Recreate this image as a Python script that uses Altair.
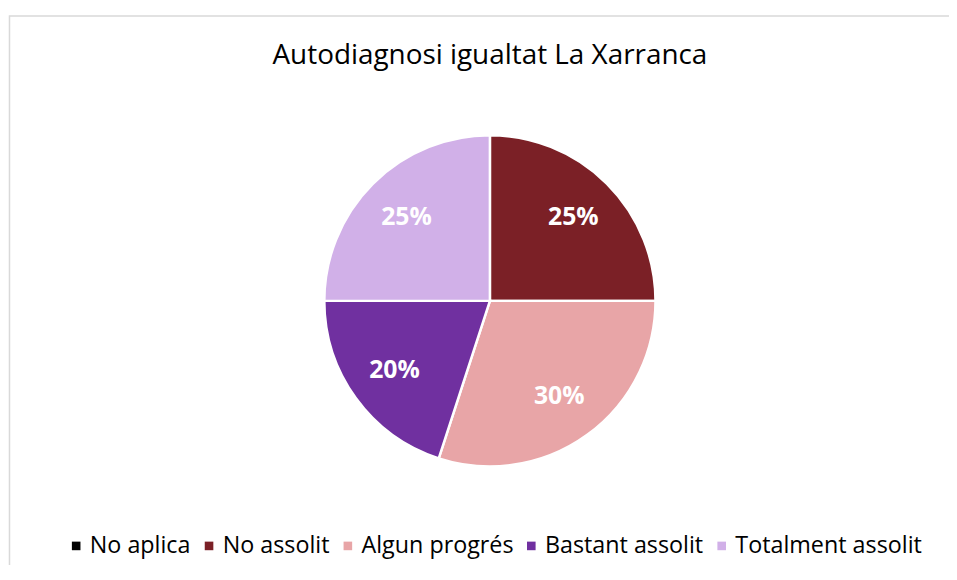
import altair as alt
import pandas as pd

categories = ["No aplica", "No assolit", "Algun progrés", "Bastant assolit", "Totalment assolit"]
values = [0, 25, 30, 20, 25]
colors = ["#000000", "#7B2026", "#E8A5A7", "#7030A0", "#D1B0E8"]
title_text = "Autodiagnosi igualtat La Xarranca"

df = pd.DataFrame({"cat": categories, "val": values, "order": list(range(len(categories)))})
df["label"] = [f"{v}%" for v in values]

CX, CY = 486, 288
FONT = "Open Sans"

base = alt.Chart(df).encode(
    theta=alt.Theta("val:Q", stack=True),
    order=alt.Order("order:Q"),
)

pie = base.mark_arc(outerRadius=167, stroke="white", strokeWidth=2.5, x=CX, y=CY).encode(
    color=alt.Color(
        "cat:N",
        scale=alt.Scale(domain=categories, range=colors),
        sort=categories,
        legend=alt.Legend(
            orient="none",
            legendX=57,
            legendY=523,
            direction="horizontal",
            title=None,
            labelFont=FONT,
            labelFontSize=23.5,
            labelColor="#000000",
            labelLimit=400,
            symbolType="square",
            symbolSize=75,
            symbolStrokeWidth=0,
            labelOffset=2,
            columnPadding=6,
        ),
    )
)

labels = base.transform_filter("datum.val > 0").mark_text(
    radius=119, x=CX, y=CY, font=FONT, fontSize=25, fontWeight="bold", color="white"
).encode(text="label:N")

title_df = pd.DataFrame({"t": [title_text]})
title = alt.Chart(title_df).mark_text(
    x=CX, y=41, font=FONT, fontSize=28.1, color="#000000"
).encode(text="t:N")

frame = alt.Chart(pd.DataFrame({"f": [0]})).mark_rect(
    fill=None, stroke="#D9D9D9", strokeWidth=1.5
).encode(
    x=alt.value(1.5), x2=alt.value(990), y=alt.value(0.75), y2=alt.value(640)
)

chart = alt.layer(frame, pie, labels, title).properties(
    width=949,
    height=552,
    padding={"left": 0, "top": 5, "right": 0, "bottom": 0},
    autosize=alt.AutoSizeParams(type="none"),
).configure_view(stroke=None)

chart.save("out.html", embed_options={"renderer": "svg", "actions": False})
